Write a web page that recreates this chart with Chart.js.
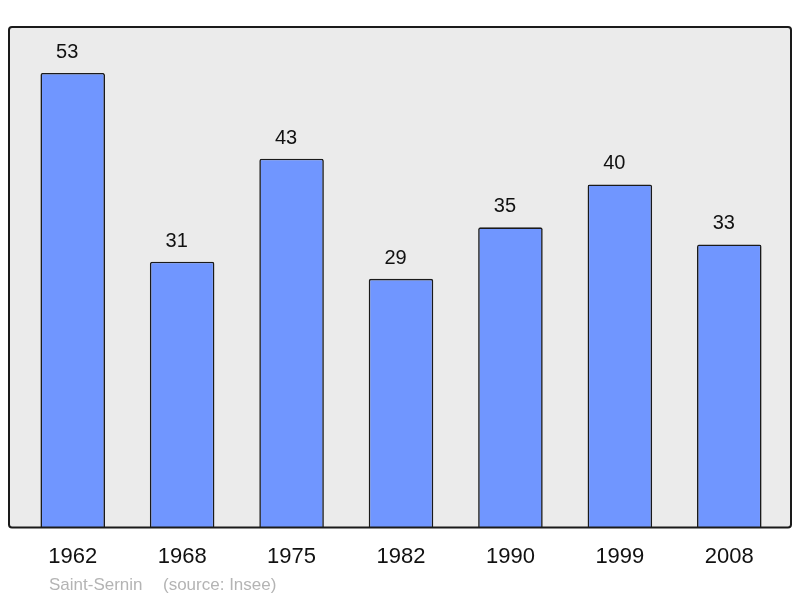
<!DOCTYPE html>
<html>
<head>
<meta charset="utf-8">
<script src="https://cdn.jsdelivr.net/npm/chart.js@4/dist/chart.umd.min.js"></script>
<style>
  html, body { margin: 0; padding: 0; background: #ffffff; }
  #wrap { width: 800px; height: 598px; }
</style>
</head>
<body>
<div id="wrap"><canvas id="chart" width="800" height="598"></canvas></div>
<script>
const years = ["1962", "1968", "1975", "1982", "1990", "1999", "2008"];
const population = [53, 31, 43, 29, 35, 40, 33];
const footerName = "Saint-Sernin";
const footerSource = "(source: Insee)";

const FONT = "'Liberation Sans', Arial, sans-serif";

// grey panel with rounded border behind the bars
const panel = {
    id: "panel",
    beforeDraw(chart) {
        const { ctx, chartArea: a } = chart;
        const x = a.left - 9, y = a.top, w = a.right + 7 - x, h = a.bottom - a.top;
        ctx.save();
        ctx.beginPath();
        ctx.roundRect(x, y, w, h, 3);
        ctx.fillStyle = "#ebebeb";
        ctx.fill();
        ctx.restore();
    },
    afterDatasetsDraw(chart) {
        const { ctx, chartArea: a } = chart;
        const x = a.left - 9, y = a.top, w = a.right + 7 - x, h = a.bottom - a.top;
        ctx.save();
        ctx.beginPath();
        ctx.roundRect(x, y, w, h, 3);
        ctx.lineWidth = 2;
        ctx.strokeStyle = "#1a1a1a";
        ctx.stroke();
        ctx.restore();
    }
};

// numbers above the bars, a bit left of centre like the original
const valueLabels = {
    id: "valueLabels",
    afterDatasetsDraw(chart) {
        const { ctx } = chart;
        const meta = chart.getDatasetMeta(0);
        ctx.save();
        ctx.font = "20px " + FONT;
        ctx.fillStyle = "#111111";
        ctx.textAlign = "center";
        ctx.textBaseline = "middle";
        meta.data.forEach((bar, i) => {
            ctx.fillText(String(population[i]), bar.x - 5.5, bar.y - 20.5);
        });
        ctx.restore();
    }
};

const footer = {
    id: "footer",
    afterDraw(chart) {
        const { ctx, chartArea: a } = chart;
        ctx.save();
        ctx.font = "17px " + FONT;
        ctx.fillStyle = "#b4b4b4";
        ctx.textBaseline = "middle";
        ctx.fillText(footerName, a.left + 31, a.bottom + 58);
        ctx.fillText(footerSource, a.left + 145, a.bottom + 58);
        ctx.restore();
    }
};

new Chart(document.getElementById("chart"), {
    type: "bar",
    data: {
        labels: years,
        datasets: [{
            data: population,
            backgroundColor: "#7096ff",
            borderColor: "#1a1a1a",
            borderWidth: 1.6,
            borderRadius: { topLeft: 2, topRight: 2 },
            borderSkipped: "bottom",
            barPercentage: 0.59,
            categoryPercentage: 1
        }]
    },
    options: {
        responsive: false,
        animation: false,
        layout: { padding: { left: 18, right: 16, top: 27, bottom: 12 } },
        plugins: {
            legend: { display: false },
            tooltip: { enabled: false }
        },
        scales: {
            x: {
                grid: { display: false, drawTicks: false, tickLength: 0 },
                border: { display: false },
                ticks: {
                    font: { family: FONT, size: 22 },
                    color: "#111111",
                    padding: 16,
                    maxRotation: 0
                }
            },
            y: {
                display: false,
                min: 0,
                max: 58.35
            }
        }
    },
    plugins: [panel, valueLabels, footer]
});
</script>
</body>
</html>
